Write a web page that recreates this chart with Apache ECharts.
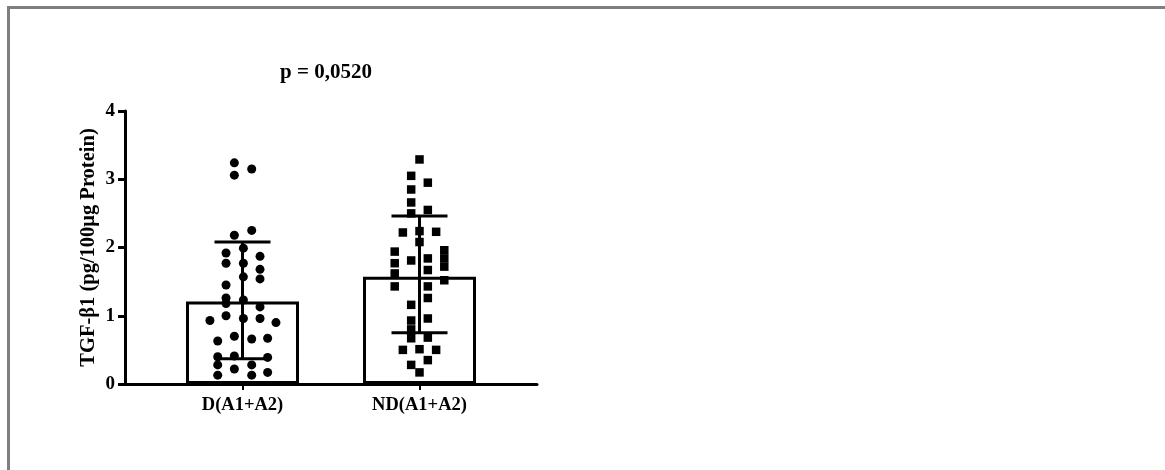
<!DOCTYPE html>
<html>
<head>
<meta charset="utf-8">
<script src="https://cdn.jsdelivr.net/npm/echarts@6/dist/echarts.min.js"></script>
<style>
  html, body { margin: 0; padding: 0; background: #fff; }
  #chart { width: 1165px; height: 470px; }
</style>
</head>
<body>
<div id="chart"></div>
<script>
// ---- data ----
const categories = ['D(A1+A2)', 'ND(A1+A2)'];
const titleText = 'p = 0,0520';
const yAxisName = 'TGF-β1 (pg/100μg Protein)';
const yTicks = [0, 1, 2, 3, 4];

const barMeans = [1.21, 1.57];
const errLower = [0.37, 0.75];
const errUpper = [2.08, 2.46];

// group D: values and horizontal jitter (in category units)
const dValues = [3.24, 3.15, 3.06, 2.18, 2.25, 1.92, 1.99, 1.87, 1.77, 1.77, 1.68, 1.57, 1.54, 1.45,
  1.26, 1.23, 1.18, 1.13, 1.00, 0.93, 0.96, 0.96, 0.90, 0.70, 0.63, 0.66, 0.67, 0.40, 0.41, 0.39,
  0.28, 0.28, 0.22, 0.13, 0.13, 0.17];
const dJitter = [-0.046, 0.052, -0.046, -0.046, 0.052, -0.093, 0.005, 0.099, -0.093, 0.005, 0.099, 0.005, 0.099, -0.093,
  -0.093, 0.005, -0.093, 0.099, -0.093, -0.184, 0.005, 0.099, 0.189, -0.046, -0.140, 0.052, 0.142, -0.140, -0.046, 0.142,
  -0.140, 0.052, -0.046, -0.140, 0.052, 0.142];

// group ND
const ndValues = [3.29, 3.05, 2.95, 2.85, 2.66, 2.55, 2.50, 2.22, 2.24, 2.23, 2.08, 1.94, 1.96, 1.84, 1.77, 1.81,
  1.84, 1.72, 1.67, 1.62, 1.52, 1.43, 1.43, 1.26, 1.16, 0.96, 0.93, 0.80, 0.67, 0.68, 0.50, 0.51, 0.50,
  0.35, 0.28, 0.17];
const ndJitter = [0, -0.047, 0.047, -0.047, -0.047, 0.047, -0.047, -0.094, 0, 0.094, 0, -0.140, 0.140, 0.140, -0.140, -0.047,
  0.047, 0.140, 0.047, -0.140, 0.140, -0.140, 0.047, 0.047, -0.047, 0.047, -0.047, -0.047, -0.047, 0.047, -0.094, 0, 0.094,
  0.047, -0.047, 0];

// ---- chart ----
const FONT = '"Liberation Serif", "Times New Roman", serif';
const chart = echarts.init(document.getElementById('chart'), null, { renderer: 'canvas' });

const dPoints = dValues.map((v, i) => [0 + dJitter[i], v]);
const ndPoints = ndValues.map((v, i) => [1 + ndJitter[i], v]);
const errData = categories.map((c, i) => [i, errLower[i], errUpper[i]]);

const option = {
  backgroundColor: '#fff',
  animation: false,
  graphic: [
    { type: 'line', shape: { x1: 7, y1: 7.5, x2: 1165, y2: 7.5 }, style: { stroke: '#7f7f7f', lineWidth: 3 } },
    { type: 'line', shape: { x1: 8.5, y1: 6, x2: 8.5, y2: 470 }, style: { stroke: '#7f7f7f', lineWidth: 3 } },
    { type: 'text', x: 326, y: 73, style: { text: titleText, font: 'bold 21px ' + FONT, fill: '#000', textAlign: 'center', textVerticalAlign: 'middle' } }
  ],
  grid: [
    { left: 125, top: 111, width: 412, height: 273 },
    { left: 154, top: 111, width: 354, height: 273 }
  ],
  xAxis: [
    { gridIndex: 0, type: 'value', min: 0, max: 1, axisLine: { show: true, lineStyle: { color: '#000', width: 3 } },
      axisTick: { show: false }, axisLabel: { show: false }, splitLine: { show: false } },
    { gridIndex: 1, type: 'category', data: categories, position: 'bottom',
      axisLine: { show: false }, axisTick: { show: true, alignWithLabel: true, length: 6, lineStyle: { color: '#000', width: 2 } },
      axisLabel: { show: true, color: '#000', fontFamily: FONT, fontWeight: 'bold', fontSize: 18.5, margin: 12 },
      splitLine: { show: false } },
    { gridIndex: 1, type: 'value', min: -0.5, max: 1.5, show: false }
  ],
  yAxis: [
    { gridIndex: 0, type: 'value', min: yTicks[0], max: yTicks[yTicks.length - 1], interval: 1,
      name: yAxisName, nameLocation: 'middle', nameGap: 26, nameRotate: 90,
      nameTextStyle: { color: '#000', fontFamily: FONT, fontWeight: 'bold', fontSize: 20.5 },
      axisLine: { show: true, lineStyle: { color: '#000', width: 3 } },
      axisTick: { show: true, length: 7, lineStyle: { color: '#000', width: 3 } },
      axisLabel: { color: '#000', fontFamily: FONT, fontWeight: 'bold', fontSize: 19, margin: 10 },
      splitLine: { show: false } },
    { gridIndex: 1, type: 'value', min: 0, max: 4, show: false }
  ],
  series: [
    { type: 'bar', xAxisIndex: 1, yAxisIndex: 1, data: barMeans, barWidth: 113,
      itemStyle: { color: '#fff', borderColor: '#000', borderWidth: 3 }, z: 2 },
    { type: 'custom', xAxisIndex: 2, yAxisIndex: 1, data: errData, z: 3,
      renderItem: function (params, api) {
        const x = api.value(0);
        const pLo = api.coord([x, api.value(1)]);
        const pHi = api.coord([x, api.value(2)]);
        const hw = 28;
        const st = { stroke: '#000', lineWidth: 3 };
        return { type: 'group', children: [
          { type: 'line', shape: { x1: pLo[0], y1: pLo[1], x2: pHi[0], y2: pHi[1] }, style: st },
          { type: 'line', shape: { x1: pLo[0] - hw, y1: pLo[1], x2: pLo[0] + hw, y2: pLo[1] }, style: st },
          { type: 'line', shape: { x1: pHi[0] - hw, y1: pHi[1], x2: pHi[0] + hw, y2: pHi[1] }, style: st }
        ] };
      } },
    { type: 'scatter', xAxisIndex: 2, yAxisIndex: 1, data: dPoints, symbol: 'circle', symbolSize: 9,
      itemStyle: { color: '#000', opacity: 1 }, z: 4 },
    { type: 'scatter', xAxisIndex: 2, yAxisIndex: 1, data: ndPoints, symbol: 'rect', symbolSize: 8.5,
      itemStyle: { color: '#000', opacity: 1 }, z: 4 }
  ]
};
chart.setOption(option);
</script>
</body>
</html>
